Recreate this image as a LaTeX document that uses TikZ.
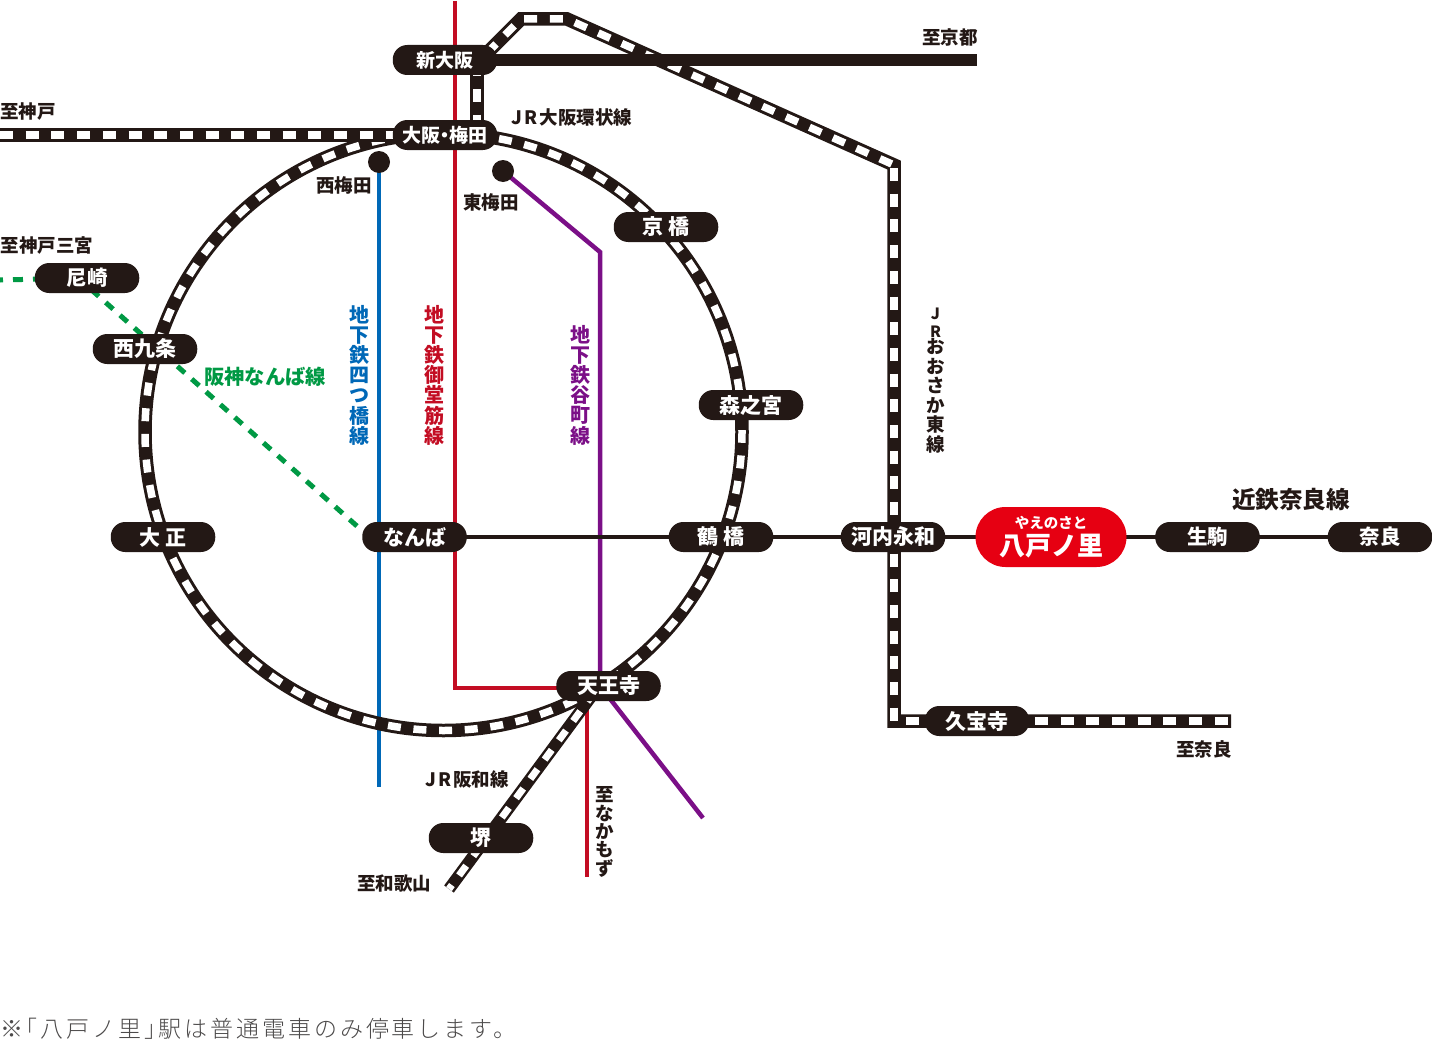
\documentclass[tikz,border=0pt]{standalone}
\usepackage{fontspec}
\setmainfont{Noto Sans CJK JP}
\newfontfamily\jplight{Noto Sans CJK JP Light}
\usetikzlibrary{backgrounds}
\definecolor{ink}{HTML}{231815}
\definecolor{hred}{HTML}{E60012}
\definecolor{lred}{HTML}{C30D23}
\definecolor{lblue}{HTML}{0068B7}
\definecolor{lpurple}{HTML}{7B0F87}
\definecolor{lgreen}{HTML}{009944}
\definecolor{note}{HTML}{4C4A4A}
\tikzset{
  x=1pt,y=-1pt,
  pill/.style={fill=ink,text=white,rounded corners=14.5pt,minimum width=104.5pt,minimum height=30pt,inner sep=0pt,font=\fontsize{21}{21}\selectfont\bfseries},
  smallpill/.style={pill,font=\fontsize{19}{19}\selectfont\bfseries},
  herepill/.style={fill=hred,text=white,rounded corners=30pt,minimum width=151pt,minimum height=60pt,inner sep=0pt,align=center,font=\bfseries},
  railbase/.style={draw=ink,line width=13.5pt,line join=miter},
  raildash/.style={draw=white,line width=7.5pt,dash pattern=on 13pt off 12.7pt,dash phase=#1},
  raildash/.default=0pt,
  hanwabase/.style={draw=ink,line width=12pt},
  hanwadash/.style={draw=white,line width=7pt,dash pattern=on 12pt off 12pt,dash phase=#1},
  hanwadash/.default=0pt,
  thickbar/.style={draw=ink,line width=12pt},
  kintetsu/.style={draw=ink,line width=4.5pt},
  subway/.style={line width=4.5pt,line join=miter},
  hanshin/.style={draw=lgreen,line width=5pt},
  dot/.style={circle,fill=ink,minimum size=22pt,inner sep=0pt},
  lab/.style={inner sep=0pt,text=ink,font=\fontsize{18.5}{18.5}\selectfont\bfseries},
  vlab/.style={inner sep=0pt,align=center,font=\fontsize{20}{20.2}\selectfont\bfseries},
}
\begin{document}
\begin{tikzpicture}
\useasboundingbox (0,0) rectangle (1432,1041);
% stations
\node[smallpill] (shin) at (445,60) {新大阪};
\node[smallpill] (ume) at (445,135) {大阪\kern-5pt・\kern-5pt梅田};
\node[pill] (kyo) at (666,227) {京 橋};
\node[pill] (mori) at (751,405) {森之宮};
\node[pill] (tsuru) at (721,537) {鶴 橋};
\node[pill] (kawa) at (893,537) {河内永和};
\node[herepill] (yae) at (1051,537) {\fontsize{14.5}{15}\selectfont やえのさと\\[3pt]\fontsize{26}{27}\selectfont 八戸ノ里};
\node[pill,font=\fontsize{20.5}{20.5}\selectfont\bfseries] (ikoma) at (1207.5,537) {生駒};
\node[pill,font=\fontsize{20.5}{20.5}\selectfont\bfseries] (nara) at (1380,537) {奈良};
\node[pill] (namba) at (414.5,537) {なんば};
\node[pill] (taisho) at (163,537) {大 正};
\node[pill] (nishi) at (145,349) {西九条};
\node[pill,font=\fontsize{20.5}{20.5}\selectfont\bfseries] (ama) at (87,278) {尼崎};
\node[pill] (ten) at (608.5,686) {天王寺};
\node[pill] (kyu) at (977,721) {久宝寺};
\node[pill] (sakai) at (481,838) {堺};
\node[dot] (numa) at (379,162) {};
\node[dot] (humeda) at (503,171) {};
% free ends
\coordinate (ctr) at (443.5,432);
\coordinate (kyoto) at (977,60);
\coordinate (kobe) at (0,135);
\coordinate (a0) at (480,60);
\coordinate (a1) at (521,19);
\coordinate (a2) at (567,19);
\coordinate (a3) at (894,165);
\coordinate (a4) at (894,721);
\coordinate (naraend) at (1231,721);
\coordinate (v1) at (477,60);
\coordinate (v2) at (477,135);
\coordinate (redtop) at (455,1);
\coordinate (redturn) at (455,688);
\coordinate (redstart) at (587,690);
\coordinate (redbot) at (587,877);
\coordinate (bluebot) at (379,787);
\coordinate (pturn) at (600,252);
\coordinate (pcorner) at (600,686);
\coordinate (pbot) at (703,818);
\coordinate (gleft) at (0,280);
\coordinate (g1) at (91.3,289.7);
\coordinate (g2) at (358,527);
\coordinate (h1) at (594.5,692);
\coordinate (h2) at (449,889);
\begin{scope}[on background layer]
  \draw[lred,subway] (redtop) -- (redturn) -- (ten.center |- redturn);
  \draw[lred,subway] (redstart) -- (redbot);
  \draw[lblue,subway] (numa.center) -- (bluebot);
  \draw[lpurple,subway] (humeda.center) -- (pturn) -- (pcorner) -- (pbot);
  \draw[hanshin,dash pattern=on 10pt off 10pt,dash phase=7pt] (gleft) -- (ama.center);
  \draw[hanshin,dash pattern=on 10pt off 9.2pt] (g1) -- (g2);
  \draw[railbase] (ctr) circle [radius=298.5];
  \draw[raildash=2.22pt] (ctr) circle [radius=298.5];
  \draw[railbase] (kobe) -- (ume.center);
  \draw[raildash] (kobe) -- (ume.center);
  \draw[railbase] (v1) -- (v2);
  \draw[raildash=22.4pt] (v1) -- (v2);
  \draw[railbase] (a0) -- (a1) -- (a2) -- (a3) -- (a4) -- (naraend);
  \draw[raildash=16pt] (a0) -- (a1) -- (a2) -- (a3);
  \draw[raildash=22.7pt] (a3) -- (a4) -- (naraend);
  \draw[thickbar] (shin.center) -- (kyoto);
  \draw[hanwabase] (h1) -- (h2);
  \draw[hanwadash] (h1) -- (h2);
  \draw[kintetsu] (namba.center) -- (nara.center);
\end{scope}
% labels
\node[lab] (t1) at (950,37) {至京都};
\node[lab] (t2) at (28,112) {至神戸};
\node[lab] (t3) at (572,117) {J\kern2pt{}R\kern2pt{}大阪環状線};
\node[lab] (t4) at (344,185) {西梅田};
\node[lab] (t5) at (491,202) {東梅田};
\node[lab] (t6) at (47,246) {至神戸三宮};
\node[lab,text=lgreen,font=\fontsize{20.3}{20.3}\selectfont\bfseries] (t7) at (265,377) {阪神なんば線};
\node[vlab,text=lblue] (t8) at (359,375) {地\\下\\鉄\\四\\つ\\橋\\線};
\node[vlab,text=lred] (t9) at (434,375) {地\\下\\鉄\\御\\堂\\筋\\線};
\node[vlab,text=lpurple] (t10) at (580,385) {地\\下\\鉄\\谷\\町\\線};
\node[vlab,text=ink,font=\fontsize{18.5}{19.5}\selectfont\bfseries] (t11) at (935.5,380.5) {{\fontsize{15.5}{16}\selectfont J}\\[-2pt]{\fontsize{15.5}{16}\selectfont R}\\[-3pt]お\\お\\さ\\か\\東\\線};
\node[lab,font=\fontsize{23.6}{23.6}\selectfont\bfseries] (t12) at (1291,500) {近鉄奈良線};
\node[lab] (t13) at (1204,749) {至奈良};
\node[lab] (t14) at (467,779) {J\kern2pt{}R\kern2pt{}阪和線};
\node[lab] (t15) at (394,883) {至和歌山};
\node[vlab,text=ink,font=\fontsize{18.5}{18.4}\selectfont\bfseries] (t16) at (604.5,832) {至\\な\\か\\も\\ず};
\node[anchor=west,inner sep=0pt,text=note,font=\fontsize{23}{23}\selectfont\jplight\addfontfeature{LetterSpace=12.6}] (t17) at (0,1029) {※\kern-8.4pt「八戸ノ里」\kern-8.4pt駅は普通電車のみ停車します。};
\end{tikzpicture}
\end{document}
